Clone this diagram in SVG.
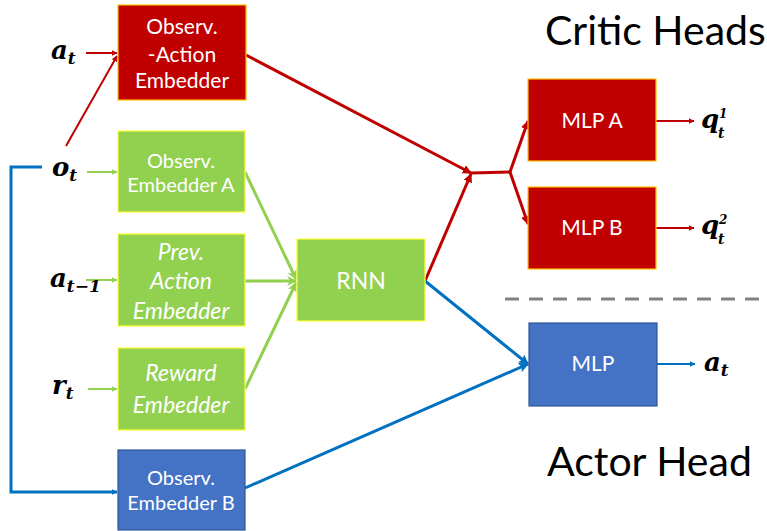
<svg xmlns="http://www.w3.org/2000/svg" width="767" height="531" viewBox="0 0 767 531">
<defs>
<style>
.red{fill:#C00000;stroke:#FFC000;stroke-width:1.2}
.green{fill:#92D050;stroke:#FFFF33;stroke-width:1.2}
.blue{fill:#4472C4;stroke:#2F5597;stroke-width:1.2}
.lbl{font-family:Lato,"Open Sans","Liberation Sans",sans-serif;fill:#fff;text-anchor:middle}
.it{font-style:italic}
.math{font-family:"DejaVu Serif","Liberation Serif",serif;font-weight:bold;font-style:italic;fill:#000}
.title{font-family:Lato,"Open Sans","Liberation Sans",sans-serif;font-size:41px;fill:#000}
.cr{stroke:#C00000;fill:none}
.cg{stroke:#92D050;fill:none}
.cb{stroke:#0070C0;fill:none}
</style>
<marker id="ar" viewBox="0 0 10 10" refX="9" refY="5" markerWidth="6" markerHeight="6" orient="auto" markerUnits="userSpaceOnUse"><path d="M0,0 L10,5 L0,10 z" fill="#C00000"/></marker>
<marker id="ar2" viewBox="0 0 10 10" refX="9" refY="5" markerWidth="9" markerHeight="9" orient="auto" markerUnits="userSpaceOnUse"><path d="M0,0 L10,5 L0,10 z" fill="#C00000"/></marker>
<marker id="ag" viewBox="0 0 10 10" refX="9" refY="5" markerWidth="6" markerHeight="6" orient="auto" markerUnits="userSpaceOnUse"><path d="M0,0 L10,5 L0,10 z" fill="#92D050"/></marker>
<marker id="ag2" viewBox="0 0 10 10" refX="9" refY="5" markerWidth="10" markerHeight="10" orient="auto" markerUnits="userSpaceOnUse"><path d="M0,0 L10,5 L0,10 L3,5 z" fill="#92D050"/></marker>
<marker id="ab" viewBox="0 0 10 10" refX="9" refY="5" markerWidth="6" markerHeight="6" orient="auto" markerUnits="userSpaceOnUse"><path d="M0,0 L10,5 L0,10 z" fill="#0070C0"/></marker>
<marker id="ab2" viewBox="0 0 10 10" refX="9" refY="5" markerWidth="10" markerHeight="10" orient="auto" markerUnits="userSpaceOnUse"><path d="M0,0 L10,5 L0,10 L2,5 z" fill="#0070C0"/></marker>
</defs>
<rect width="767" height="531" fill="#fff"/>

<g id="connectors">
<line class="cr" x1="86" y1="53" x2="117" y2="53" stroke-width="2" marker-end="url(#ar)"/>
<line class="cr" x1="66" y1="146" x2="117" y2="56" stroke-width="2" marker-end="url(#ar)"/>
<line class="cg" x1="87" y1="172" x2="117" y2="172" stroke-width="2" marker-end="url(#ag)"/>
<line class="cg" x1="86" y1="280" x2="117" y2="280" stroke-width="2" marker-end="url(#ag)"/>
<line class="cg" x1="88" y1="389" x2="117" y2="389" stroke-width="2" marker-end="url(#ag)"/>
<polyline class="cb" points="42,167 11,167 11,492 117,492" stroke-width="3" marker-end="url(#ab)"/>
<line class="cg" x1="245" y1="172" x2="296" y2="279" stroke-width="3" marker-end="url(#ag2)"/>
<line class="cg" x1="245" y1="281" x2="296" y2="281" stroke-width="3" marker-end="url(#ag2)"/>
<line class="cg" x1="245" y1="389" x2="296" y2="283" stroke-width="3" marker-end="url(#ag2)"/>
<line class="cr" x1="246" y1="55" x2="471" y2="173" stroke-width="3" marker-end="url(#ar2)"/>
<line class="cr" x1="425" y1="281" x2="471" y2="174" stroke-width="3" marker-end="url(#ar2)"/>
<polyline class="cr" points="471,173 510,172" stroke-width="3"/>
<line class="cr" x1="510" y1="172" x2="528" y2="121" stroke-width="3" marker-end="url(#ar2)"/>
<line class="cr" x1="510" y1="172" x2="528" y2="224" stroke-width="3" marker-end="url(#ar2)"/>
<line class="cb" x1="425" y1="281" x2="528" y2="364" stroke-width="3" marker-end="url(#ab2)"/>
<line class="cb" x1="245" y1="488" x2="528" y2="364" stroke-width="3" marker-end="url(#ab2)"/>
<line class="cr" x1="656" y1="121" x2="694" y2="121" stroke-width="2" marker-end="url(#ar)"/>
<line class="cr" x1="656" y1="228" x2="694" y2="228" stroke-width="2" marker-end="url(#ar)"/>
<line class="cb" x1="657" y1="364" x2="695" y2="364" stroke-width="2" marker-end="url(#ab)"/>
<line x1="505" y1="299" x2="767" y2="299" stroke="#808080" stroke-width="3" stroke-dasharray="14,10"/>
</g>

<g id="obs-action-embedder">
<rect class="red" x="118" y="5" width="128" height="95"/>
<text class="lbl" font-size="21" x="182" y="34">Observ.</text>
<text class="lbl" font-size="21" x="182" y="62">-Action</text>
<text class="lbl" font-size="21" x="182" y="88">Embedder</text>
</g>
<g id="obs-embedder-a">
<rect class="green" x="118" y="131" width="127" height="81"/>
<text class="lbl" font-size="20" x="181" y="168">Observ.</text>
<text class="lbl" font-size="20" x="181" y="192">Embedder A</text>
</g>
<g id="prev-action-embedder">
<rect class="green" x="118" y="234" width="127" height="92"/>
<text class="lbl it" font-size="23" x="181" y="260">Prev.</text>
<text class="lbl it" font-size="23" x="181" y="289">Action</text>
<text class="lbl it" font-size="23" x="181" y="319">Embedder</text>
</g>
<g id="reward-embedder">
<rect class="green" x="118" y="348" width="127" height="82"/>
<text class="lbl it" font-size="23" x="181" y="381">Reward</text>
<text class="lbl it" font-size="23" x="181" y="413">Embedder</text>
</g>
<g id="obs-embedder-b">
<rect class="blue" x="118" y="450" width="127" height="80"/>
<text class="lbl" font-size="20" x="181" y="485">Observ.</text>
<text class="lbl" font-size="20" x="181" y="510">Embedder B</text>
</g>
<g id="rnn">
<rect class="green" x="297" y="239" width="128" height="82"/>
<text class="lbl" font-size="23" x="361" y="289">RNN</text>
</g>
<g id="mlp-a">
<rect class="red" x="528" y="79" width="128" height="82"/>
<text class="lbl" font-size="21" x="592" y="128">MLP A</text>
</g>
<g id="mlp-b">
<rect class="red" x="528" y="187" width="128" height="82"/>
<text class="lbl" font-size="21" x="592" y="235">MLP B</text>
</g>
<g id="mlp-actor">
<rect class="blue" x="529" y="323" width="128" height="83"/>
<text class="lbl" font-size="21" x="593" y="371">MLP</text>
</g>

<g id="labels">
<text class="math" font-size="26" x="51" y="59">a<tspan font-size="17" dy="5">t</tspan></text>
<text class="math" font-size="26" x="52" y="176">o<tspan font-size="17" dy="5">t</tspan></text>
<text class="math" font-size="26" x="50" y="287">a<tspan font-size="17" dy="5">t−1</tspan></text>
<text class="math" font-size="26" x="52" y="394">r<tspan font-size="17" dy="5">t</tspan></text>
<text class="math" font-size="26" x="701" y="128">q</text>
<text class="math" font-size="12" x="719" y="118">1</text>
<text class="math" font-size="14" x="718" y="138">t</text>
<text class="math" font-size="26" x="701" y="234">q</text>
<text class="math" font-size="12" x="719" y="224">2</text>
<text class="math" font-size="14" x="718" y="244">t</text>
<text class="math" font-size="26" x="704" y="371">a<tspan font-size="17" dy="5">t</tspan></text>
<text class="title" x="545" y="45">Critic Heads</text>
<text class="title" x="547" y="476">Actor Head</text>
</g>
</svg>
